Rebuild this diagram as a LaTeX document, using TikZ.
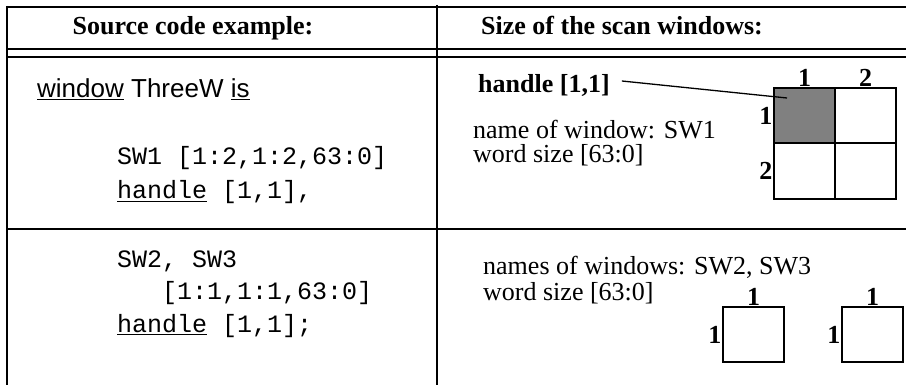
\documentclass[tikz,border=0pt]{standalone}
\usepackage{fontspec}
\setmainfont{Liberation Serif}
\setsansfont{Liberation Sans}
\setmonofont{Liberation Mono}
\usetikzlibrary{positioning}

\tikzset{
  rule/.style={line width=2pt},
  txt/.style={anchor=base west,inner sep=0pt,font=\fontsize{26}{30}\selectfont},
  code/.style={anchor=base west,inner sep=0pt,font=\ttfamily\fontsize{25}{30}\selectfont},
  idx/.style={inner sep=1.5pt,font=\bfseries\fontsize{26}{30}\selectfont},
  cell/.style={rectangle,draw,line width=2pt,inner sep=0pt,outer sep=0pt,minimum width=61pt,minimum height=55.5pt},
}

\begin{document}
\begin{tikzpicture}[x=1pt,y=-1pt]
    \useasboundingbox (0,0) rectangle (906,385);

    % table
    \draw[rule] (6,7) -- (906,7);
    \draw[rule] (6,49) -- (906,49) (6,57) -- (906,57);
    \draw[rule] (6,229) -- (906,229);
    \draw[rule] (7,6) -- (7,385) (437,5) -- (437,385);

    % headers
    \node[txt,anchor=base,font=\bfseries\fontsize{26}{30}\selectfont] (hsrc) at (193,35) {Source code example:};
    \node[txt,font=\bfseries\fontsize{26}{30}\selectfont] (hsize) at (481,35) {Size of the scan windows:};

    % source code
    \node[txt,font=\sffamily\fontsize{26}{30}\selectfont] (decl) at (37,98) {\underline{window} ThreeW \underline{is}};
    \node[code] (sw1) at (117,165) {SW1 [1:2,1:2,63:0]};
    \node[code] (h1) at (117,199) {\underline{handle} [1,1],};
    \node[code] (sw23) at (117,268) {SW2, SW3};
    \node[code] (dim23) at (162,299) {[1:1,1:1,63:0]};
    \node[code] (h23) at (117,332) {\underline{handle} [1,1];};

    % window SW1
    \node[txt,font=\bfseries\fontsize{26}{30}\selectfont] (hdl) at (478,93) {handle [1,1]};
    \node[txt] (nm1) at (473,139) {name of window: SW1};
    \node[txt] (ws1) at (473,163) {word size [63:0]};

    \draw
    (774,88)node[cell,fill=gray,anchor=north west](c11){}
    (c11.north east)node[cell,anchor=north west](c12){}
    (c11.south west)node[cell,anchor=north west](c21){}
    (c11.south east)node[cell,anchor=north west](c22){}
    (c11.north)node[idx,above](col1){1}
    (c12.north)node[idx,above](col2){2}
    (c11.west)node[idx,left](row1){1}
    (c21.west)node[idx,left](row2){2}
    ;
    \coordinate (hdltip) at ([xshift=13pt,yshift=-10pt]c11.north west);
    \draw[line width=1.3pt] ([xshift=12pt,yshift=5pt]hdl.east) -- (hdltip);

    % windows SW2, SW3
    \node[txt] (nm23) at (483,275) {names of windows: SW2, SW3};
    \node[txt] (ws23) at (483,301) {word size [63:0]};

    \draw
    (723,307)node[cell,anchor=north west,minimum height=55pt](b2){}
    (b2.north)node[idx,above](b2col){1}
    (b2.west)node[idx,left](b2row){1}
    (842,307)node[cell,anchor=north west,minimum height=55pt](b3){}
    (b3.north)node[idx,above](b3col){1}
    (b3.west)node[idx,left](b3row){1}
    ;
\end{tikzpicture}
\end{document}
